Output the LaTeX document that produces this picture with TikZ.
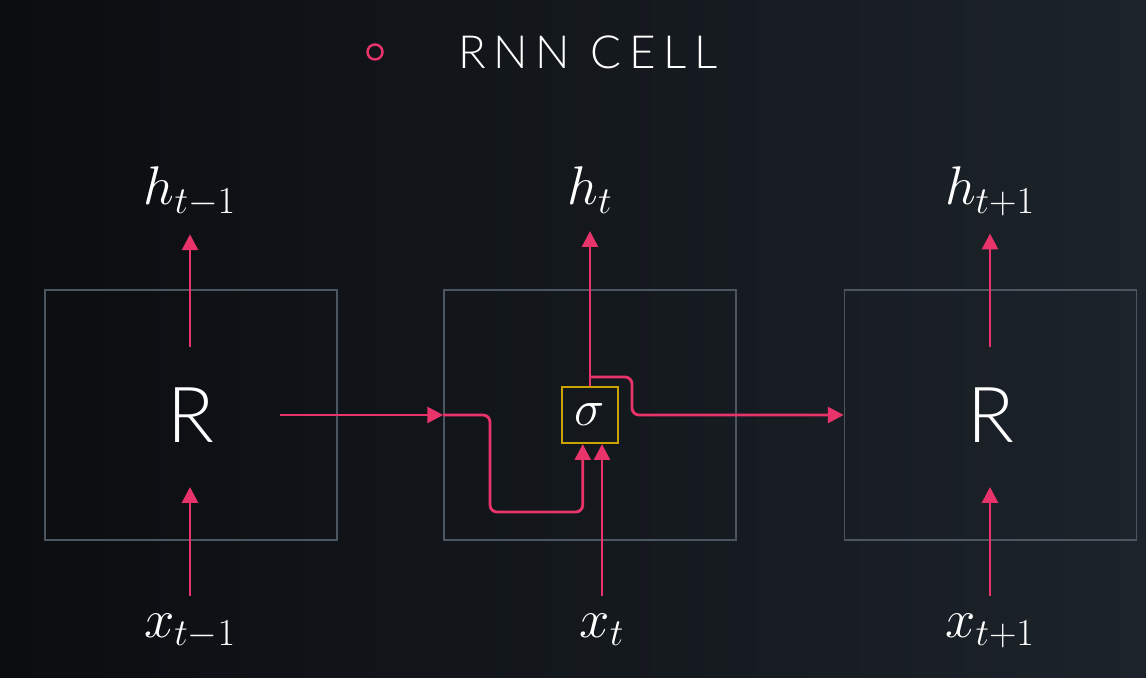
\RequirePackage{fix-cm}
\documentclass[tikz,border=0pt]{standalone}
\usepackage{fontspec}
\IfFontExistsTF{Lato Light}{%
  \newfontfamily\lato{Lato Light}
  \newfontfamily\latotitel[LetterSpace=17]{Lato Light}}{%
  \newfontfamily\lato{Lato}
  \newfontfamily\latotitel[LetterSpace=17]{Lato}}
\usetikzlibrary{arrows.meta}

\definecolor{grundA}{HTML}{0B0D10}
\definecolor{grundB}{HTML}{1C232A}
\definecolor{rosa}{HTML}{E8336B}
\definecolor{kante}{HTML}{4B5661}
\definecolor{gelb}{HTML}{C9A300}

\tikzset{
    zelle/.style={draw=kante, line width=0.9pt, minimum width=5.84cm, minimum height=5cm,
        text=white, font=\fontsize{44}{46}\selectfont\lato},
    sig/.style={draw=gelb, line width=1.3pt, minimum size=1.12cm, inner sep=0pt,
        text=white, font=\fontsize{29}{32}\selectfont},
    etikett/.style={text=white, font=\fontsize{31}{36}\selectfont, inner sep=10pt, anchor=base},
    pfeil/.style={draw=rosa, line width=1.6pt, rounded corners=4pt,
        -{Triangle[length=9pt,width=9pt]}},
    kreis/.style={circle, draw=rosa, line width=1.4pt, minimum size=0.3cm, inner sep=0pt}
}

\begin{document}
\begin{tikzpicture}[x=0.02cm, y=-0.02cm]
    \shade[left color=grundA, right color=grundB] (0,0) rectangle (1146,678);
    \useasboundingbox (0,0) rectangle (1146,678);
    \path node[kreis] (punkt) at (375,52) {}
        node[anchor=west, text=white, font=\fontsize{26}{30}\selectfont\latotitel] (titel) at (452,52) {RNN CELL};
    % Zellen
    \path node[zelle] (zL) at (191,415) {R}
        node[zelle] (zM) at (590,415) {}
        node[zelle] (zR) at (990.5,415) {R}
        node[sig] (sig) at (590,415) {$\sigma$};
    % Beschriftungen
    \path node[etikett] (hL) at (190,205) {$h_{t-1}$}
        node[etikett] (hM) at (590,205) {$h_t$}
        node[etikett] (hR) at (990,205) {$h_{t+1}$}
        node[etikett] (xL) at (190,637) {$x_{t-1}$}
        node[etikett] (xM) at (602,637) {$x_t$}
        node[etikett] (xR) at (990,637) {$x_{t+1}$};
    % Hilfspunkte
    \path coordinate (oL) at (190,347)
        coordinate (iL) at (190,487)
        coordinate (oR) at (990,347)
        coordinate (iR) at (990,487)
        coordinate (sL) at (280,415)
        coordinate (unten) at (490,512)
        coordinate (abzweig) at (590,377)
        coordinate (knick) at (632,396);
    \draw[pfeil] (oL) -- (hL);
    \draw[pfeil] (xL) -- (iL);
    \draw[pfeil] (oR) -- (hR);
    \draw[pfeil] (xR) -- (iR);
    \draw[pfeil] (sL) -- (zM.west);
    \draw[pfeil] (zM.west) -| (unten) -| (sig.-104);
    \draw[pfeil] (xM) -- (xM |- sig.south);
    \draw[pfeil] (sig) -- (hM);
    \draw[pfeil] (abzweig) -| (knick) |- (zR.west);
\end{tikzpicture}
\end{document}
